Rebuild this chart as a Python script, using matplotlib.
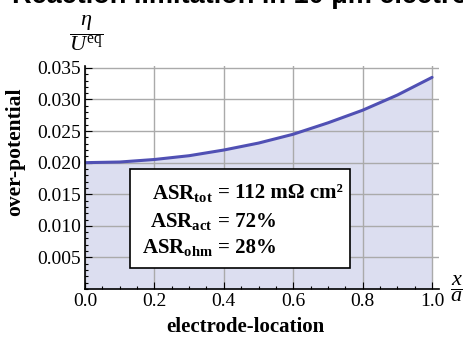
import matplotlib
matplotlib.use('Agg')
import matplotlib.pyplot as plt
from matplotlib.patches import Rectangle
from matplotlib.ticker import MultipleLocator

location = [0.0, 0.1, 0.2, 0.3, 0.4, 0.5, 0.6, 0.7, 0.8, 0.9, 1.0]
overpotential = [0.0200, 0.0201, 0.0205, 0.0211, 0.0220, 0.0231,
                 0.0245, 0.0263, 0.0283, 0.0307, 0.0335]
x_ticks = [0.0, 0.2, 0.4, 0.6, 0.8, 1.0]
y_ticks = [0.005, 0.010, 0.015, 0.020, 0.025, 0.030, 0.035]
asr_names = ['tot', 'act', 'ohm']
asr_values = ['= 112 m\u03a9 cm\u00b2', '= 72%', '= 28%']

plt.rcParams['font.family'] = ['Liberation Serif', 'DejaVu Serif']
plt.rcParams['mathtext.fontset'] = 'custom'
plt.rcParams['mathtext.rm'] = 'Liberation Serif'
plt.rcParams['mathtext.it'] = 'Liberation Serif:italic'
plt.rcParams['mathtext.bf'] = 'Liberation Serif:bold'

W, H = 463, 338
fig = plt.figure(figsize=(W / 100, H / 100), dpi=100)
ax = fig.add_axes([85 / W, 1 - 289 / H, 354 / W, 223 / H])

line_color = '#5050b4'
fill_color = '#dcdef0'
ax.fill_between(location, overpotential, 0, color=fill_color, lw=0, zorder=1)
ax.plot(location, overpotential, color=line_color, lw=2.2, zorder=3, solid_capstyle='round')

ax.set_xlim(0, 1.02)
ax.set_ylim(0, 0.0353)
ax.set_xticks(x_ticks)
ax.set_xticklabels([f'{t:.1f}' for t in x_ticks])
ax.set_yticks(y_ticks)
ax.set_yticklabels([f'{t:.3f}' for t in y_ticks])
ax.xaxis.set_minor_locator(MultipleLocator(0.05))
ax.yaxis.set_minor_locator(MultipleLocator(0.001))
ax.tick_params(which='both', direction='in', labelsize=14, width=0.8, pad=3)
ax.tick_params(which='major', length=5)
ax.tick_params(which='minor', length=2.5)
ax.grid(True, which='major', color='#aaaaaa', lw=1, zorder=2)
ax.set_axisbelow(False)
for s in ['top', 'right']:
    ax.spines[s].set_visible(False)
for s in ['left', 'bottom']:
    ax.spines[s].set_linewidth(1.2)
    ax.spines[s].set_zorder(4)

ax.set_xlabel('electrode-location', fontsize=15, fontweight='bold')
ax.set_ylabel('over-potential', fontsize=15.5, fontweight='bold')
ax.xaxis.set_label_coords((245 - 85) / 354, -(317 - 289) / 223)
ax.yaxis.set_label_coords((25 - 85) / 354, (289 - 152) / 223)

# text box with ASR values
box = Rectangle(((130 - 85) / 354, (289 - 268) / 223), 220 / 354, 99 / 223,
                transform=ax.transAxes, facecolor='white', edgecolor='black',
                lw=1.2, zorder=5)
ax.add_patch(box)
rows_y = [193, 222, 248]
for name, val, yp in zip(asr_names, asr_values, rows_y):
    fig.text(213 / W, 1 - yp / H, 'ASR$_{\\mathbf{' + name + '}}$', ha='right', va='center',
             fontsize=15, fontweight='bold', zorder=6)
    fig.text(218 / W, 1 - yp / H, val, ha='left', va='center',
             fontsize=15, fontweight='bold', zorder=6)

fig.text(86 / W, 1 - 33 / H, r'$\dfrac{\eta}{U^{\mathrm{eq}}}$', ha='center', va='center', fontsize=16)
fig.text(457 / W, 1 - 289 / H, r'$\dfrac{x}{a}$', ha='center', va='center', fontsize=16)

fig.text(12 / W, 1 - 3 / H, 'Reaction limitation in 10 \u03bcm electrode', ha='left', va='baseline',
         fontsize=19.5, fontweight='bold', family=['Liberation Sans', 'DejaVu Sans'])

fig.savefig('out.png', dpi=100)
